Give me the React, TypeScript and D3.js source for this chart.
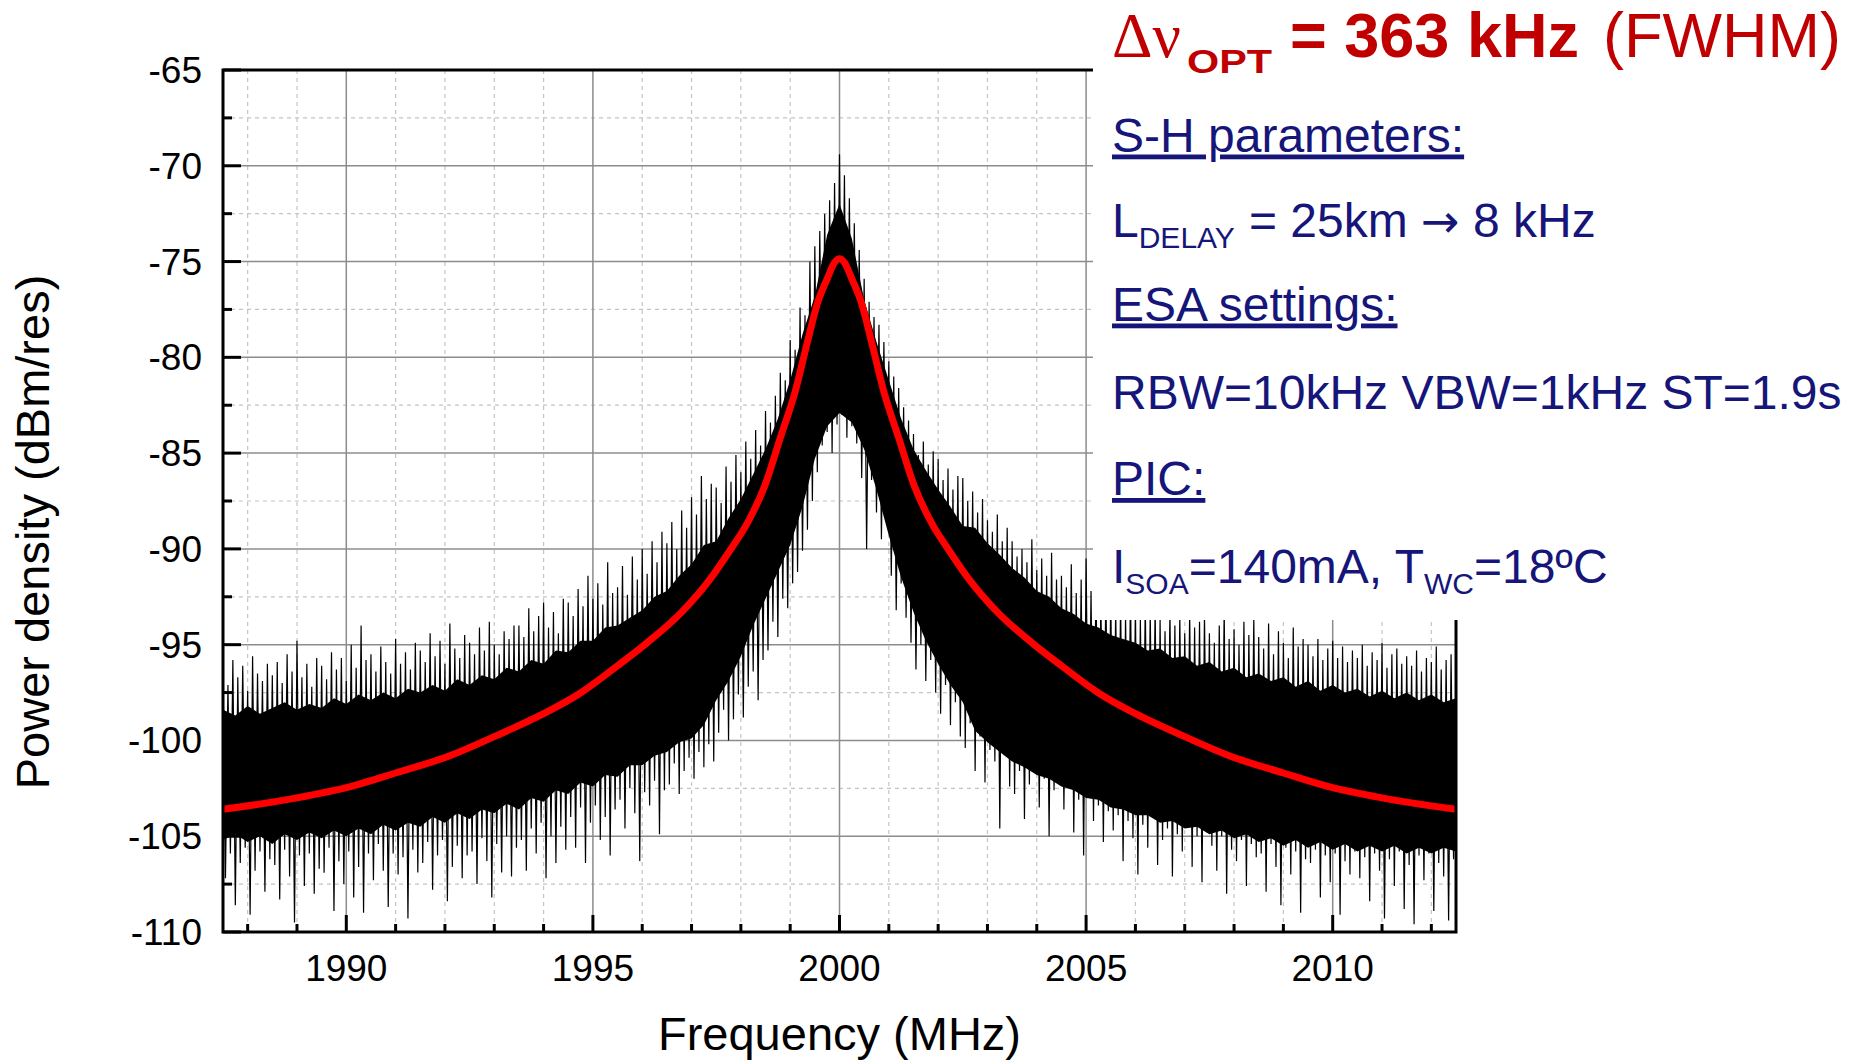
import React from 'react';
import * as d3 from 'd3';

// ---------- axes ----------
const xDomain = [1987.5, 2012.5];
const yDomain = [-110, -65];
const xTicks = [1990, 1995, 2000, 2005, 2010];
const yTicks = [-110, -105, -100, -95, -90, -85, -80, -75, -70, -65];

// ---------- measured trace (per 0.1 MHz bin: upper and lower excursion, dBm/res) ----------
const traceStart = 1987.5;
const traceStep = 0.1;
const traceHigh = [
  -96.3, -97.1, -95.8, -96.7, -96.1, -97.4, -95.6, -96.5, -96.9, -96.0,
  -96.6, -95.9, -97.0, -95.5, -96.4, -94.8, -96.7, -96.0, -97.2, -95.7,
  -96.1, -96.8, -95.4, -96.3, -95.7, -96.9, -95.0, -96.2, -94.0, -95.8,
  -95.5, -96.4, -95.1, -95.9, -96.5, -94.7, -96.0, -95.4, -96.3, -94.9,
  -95.3, -95.9, -94.4, -95.6, -94.8, -96.0, -93.9, -95.2, -95.7, -94.5,
  -94.9, -95.5, -94.1, -95.3, -93.8, -95.0, -95.5, -94.3, -94.7, -94.0,
  -94.0, -94.6, -93.1, -94.3, -93.5, -92.8, -94.1, -93.3, -94.4, -92.6,
  -92.8, -93.5, -92.1, -93.0, -91.4, -92.6, -91.8, -92.9, -90.7, -92.3,
  -92.0, -90.9, -92.4, -90.4, -91.6, -90.0, -91.3, -89.6, -90.7, -89.1,
  -89.7, -88.6, -90.0, -88.0, -88.9, -87.3, -88.2, -86.2, -87.4, -86.6,
  -86.8, -87.6, -85.7, -86.5, -85.1, -86.0, -84.4, -85.3, -83.8, -84.6,
  -82.8, -83.4, -82.0, -80.8, -81.2, -79.1, -79.6, -77.4, -77.8, -75.0,
  -74.2, -73.4, -72.5, -71.8, -70.9, -69.4, -70.5, -71.7, -73.0, -74.4,
  -75.9, -77.1, -77.9, -78.3, -79.2, -80.2, -81.0, -81.6, -82.6, -83.3,
  -84.0, -85.1, -84.4, -85.6, -84.9, -85.3, -86.4, -85.8, -86.9, -86.2,
  -86.3, -87.5, -87.0, -88.1, -87.4, -88.5, -89.1, -88.2, -89.6, -88.9,
  -89.6, -90.4, -90.0, -90.7, -89.5, -91.1, -90.5, -91.4, -90.2, -91.6,
  -91.4, -92.0, -90.8, -92.3, -91.6, -90.5, -92.2, -91.7, -92.6, -91.9,
  -92.4, -93.1, -92.6, -93.4, -92.1, -92.9, -93.6, -92.7, -93.3, -93.0,
  -93.7, -94.3, -93.2, -94.0, -93.5, -94.4, -93.3, -94.1, -93.8, -93.4,
  -94.4, -94.9, -94.0, -93.1, -94.7, -94.2, -95.0, -93.8, -94.5, -93.6,
  -94.6, -95.2, -93.9, -95.5, -94.3, -94.9, -95.7, -94.1, -95.1, -94.7,
  -95.0, -95.6, -94.7, -95.8, -95.2, -94.8, -95.7, -95.1, -95.9, -95.3,
  -95.7, -95.0, -96.1, -95.4, -95.8, -94.9, -96.2, -95.5, -95.2, -96.0,
  -95.6, -96.1, -95.3, -96.4, -95.7, -95.9, -95.1, -96.3, -95.8, -95.5, -96.2,
];
const traceLow = [
  -107.2, -105.9, -108.6, -106.4, -105.6, -109.1, -106.8, -105.8, -107.9, -106.2,
  -106.5, -108.3, -105.7, -107.1, -109.5, -106.0, -107.6, -105.9, -108.0, -106.7,
  -106.9, -105.6, -108.9, -106.3, -107.5, -105.8, -108.2, -106.6, -109.0, -105.9,
  -107.3, -105.4, -106.8, -108.7, -105.9, -107.0, -106.1, -109.3, -105.7, -106.9,
  -106.4, -105.3, -107.8, -106.0, -105.2, -108.4, -106.6, -105.5, -107.2, -106.0,
  -105.8, -107.5, -105.1, -106.3, -108.2, -105.4, -106.9, -105.0, -107.1, -105.6,
  -105.2, -106.8, -104.6, -105.9, -104.3, -107.2, -105.0, -106.4, -104.5, -105.7,
  -104.0, -105.6, -103.5, -106.4, -104.3, -103.4, -105.2, -104.0, -106.0, -103.6,
  -103.1, -104.6, -102.5, -103.8, -106.3, -102.7, -103.4, -102.1, -104.9, -102.6,
  -102.3, -101.2, -102.8, -101.6, -100.9, -102.0, -100.6, -101.4, -100.2, -101.1,
  -99.6, -98.4, -100.0, -98.9, -97.6, -98.8, -97.2, -96.4, -97.9, -95.8,
  -95.3, -93.8, -94.6, -92.6, -93.1, -91.8, -91.2, -90.1, -89.0, -87.5,
  -86.0, -84.6, -83.9, -85.0, -83.5, -83.0, -84.2, -83.6, -84.5, -86.3,
  -90.0, -86.4, -88.1, -89.5, -88.6, -91.4, -93.2, -91.8, -93.6, -94.9,
  -96.3, -95.0, -96.9, -95.8, -97.5, -98.6, -97.1, -99.2, -98.0, -99.8,
  -100.4, -99.1, -101.6, -99.8, -102.2, -100.5, -101.1, -104.6, -100.7, -102.4,
  -102.8, -101.6, -104.1, -102.3, -101.4, -103.5, -102.0, -105.0, -102.6, -101.9,
  -103.6, -102.5, -104.8, -103.1, -106.0, -102.9, -104.2, -103.4, -105.3, -103.7,
  -104.7, -103.9, -106.3, -104.2, -105.1, -107.0, -104.4, -105.6, -104.0, -106.5,
  -105.2, -104.6, -107.1, -104.9, -105.8, -104.5, -106.6, -105.0, -107.4, -104.8,
  -105.5, -106.8, -105.0, -108.0, -105.7, -106.3, -105.2, -107.6, -105.4, -106.1,
  -105.9, -107.9, -105.4, -106.6, -108.6, -105.6, -107.0, -105.8, -109.0, -106.2,
  -106.4, -105.7, -108.2, -106.0, -107.4, -105.9, -109.1, -106.3, -107.0, -105.8,
  -107.2, -106.1, -108.4, -105.9, -106.8, -109.3, -106.2, -107.6, -105.8, -108.8,
  -106.5, -109.6, -106.0, -107.3, -105.9, -108.9, -106.4, -107.1, -109.4, -106.2, -107.5,
];

// dense core of the trace (solid black part of the sweep), every 0.25 MHz
const coreStart = 1987.5;
const coreStep = 0.25;
const coreTop = [
  -98.4, -98.7, -98.2, -98.6, -98.3, -98.0, -98.4, -98.1, -98.3, -97.8,
  -98.1, -97.6, -97.9, -97.5, -97.8, -97.3, -97.5, -97.1, -97.4, -96.8,
  -97.1, -96.6, -96.8, -96.2, -96.4, -95.8, -96.0, -95.3, -95.4, -94.8,
  -94.8, -94.1, -94.0, -93.6, -93.2, -92.5, -92.2, -91.4, -90.8, -89.8,
  -89.6, -88.4, -87.4, -86.1, -84.8, -83.2, -81.2, -78.8, -76.8, -73.6,
  -72.0, -73.8, -77.0, -79.2, -81.2, -83.2, -84.8, -85.9, -86.9, -87.8,
  -88.8, -88.9, -89.7, -90.3, -91.0, -91.5, -92.2, -92.5, -93.1, -93.4,
  -93.9, -94.1, -94.5, -94.7, -94.9, -95.3, -95.2, -95.7, -95.6, -96.1,
  -95.9, -96.4, -96.2, -96.7, -96.5, -96.9, -96.7, -97.2, -96.9, -97.4,
  -97.1, -97.5, -97.3, -97.7, -97.4, -97.8, -97.5, -97.9, -97.6, -98.0,
  -97.8,
];
const coreBottom = [
  -105.2, -104.9, -105.3, -105.0, -105.4, -104.9, -105.2, -104.8, -105.1, -104.7,
  -105.0, -104.6, -104.9, -104.4, -104.7, -104.3, -104.5, -104.0, -104.3, -103.8,
  -104.1, -103.6, -103.8, -103.3, -103.6, -103.0, -103.2, -102.6, -102.8, -102.2,
  -102.4, -101.8, -101.9, -101.3, -101.3, -100.8, -100.6, -100.1, -99.9, -99.2,
  -97.9, -96.9, -95.6, -94.0, -92.6, -91.2, -89.8, -87.8, -85.3, -83.6,
  -82.9, -83.4, -84.8, -86.9, -89.3, -91.5, -93.3, -94.8, -96.0, -97.1,
  -98.0, -99.5, -100.1, -100.6, -101.1, -101.4, -101.8, -102.0, -102.4, -102.6,
  -103.0, -103.1, -103.5, -103.6, -103.9, -103.9, -104.3, -104.2, -104.6, -104.5,
  -104.9, -104.7, -105.1, -104.9, -105.3, -105.1, -105.5, -105.2, -105.6, -105.3,
  -105.7, -105.4, -105.8, -105.5, -105.8, -105.5, -105.9, -105.6, -105.9, -105.6,
  -105.8,
];

// ---------- Lorentzian fit (red) ----------
const fitFreq = [1987.5, 1989.0, 1990.1, 1991.0, 1992.1, 1993.0, 1994.0, 1994.7, 1995.5, 1996.1, 1996.8, 1997.4, 1997.8, 1998.1, 1998.5, 1998.8, 1999.1, 1999.35, 1999.55, 1999.75, 1999.9, 2000.0, 2000.1, 2000.25, 2000.45, 2000.65, 2000.9, 2001.2, 2001.5, 2001.9, 2002.2, 2002.6, 2003.2, 2003.9, 2004.5, 2005.3, 2006.0, 2007.0, 2007.9, 2009.0, 2009.9, 2011.0, 2012.5];
const fitLevel = [-103.6, -103.0, -102.4, -101.7, -100.8, -99.8, -98.6, -97.6, -96.1, -94.9, -93.3, -91.5, -90.0, -88.8, -86.6, -84.2, -81.8, -79.2, -77.2, -75.9, -75.05, -74.85, -75.05, -75.9, -77.2, -79.2, -81.8, -84.2, -86.6, -88.8, -90.0, -91.5, -93.3, -94.9, -96.1, -97.6, -98.6, -99.8, -100.8, -101.7, -102.4, -103.0, -103.6];

const W = 1852;
const H = 1063;
const P = { left: 223, right: 1456, top: 70, bottom: 932 };
const BLUE = '#15157a';
const RED_TXT = '#c00000';

export default function App() {
  const x = d3.scaleLinear().domain(xDomain).range([P.left, P.right]);
  const y = d3.scaleLinear().domain(yDomain).range([P.bottom, P.top]);

  const xMinor = d3.range(1988, 2013, 1).filter((v) => v % 5 !== 0);
  const yMinor = d3.range(-107.5, -65, 5);
  const yMajorGrid = yTicks.filter((v) => v > -110 && v < -65);

  // zigzag through high/low excursions of each bin
  const zig: [number, number][] = [];
  traceHigh.forEach((h, i) => {
    const f = traceStart + i * traceStep;
    zig.push([f, h]);
    zig.push([f + traceStep / 2, traceLow[i]]);
  });
  const zigPath = d3
    .line<[number, number]>()
    .x((d) => x(d[0]))
    .y((d) => y(d[1]))(zig) as string;

  const coreData = coreTop.map((t, i) => ({ f: coreStart + i * coreStep, t, b: coreBottom[i] }));
  const corePath = d3
    .area<{ f: number; t: number; b: number }>()
    .x((d) => x(d.f))
    .y0((d) => y(d.b))
    .y1((d) => y(d.t))(coreData) as string;

  const fitPath = d3
    .line<number>()
    .x((_, i) => x(fitFreq[i]))
    .y((d) => y(d))
    .curve(d3.curveMonotoneX)(fitLevel) as string;

  const font = "'Liberation Sans', Arial, Helvetica, sans-serif";

  return (
    <div style={{ position: 'absolute', left: 0, top: 0 }}>
      <svg width={W} height={H} style={{ display: 'block', background: '#fff' }} fontFamily={font}>
        <defs>
          <clipPath id="plotClip">
            <rect x={P.left} y={P.top} width={P.right - P.left} height={P.bottom - P.top} />
          </clipPath>
        </defs>

        {/* minor grid */}
        <g stroke="#c4c4c4" strokeWidth={1.2} strokeDasharray="4,4">
          {xMinor.map((v) => (
            <line key={'xm' + v} x1={x(v)} x2={x(v)} y1={P.top} y2={P.bottom} />
          ))}
          {yMinor.map((v) => (
            <line key={'ym' + v} x1={P.left} x2={P.right} y1={y(v)} y2={y(v)} />
          ))}
        </g>
        {/* major grid */}
        <g stroke="#8c8c8c" strokeWidth={1.5}>
          {xTicks.map((v) => (
            <line key={'xM' + v} x1={x(v)} x2={x(v)} y1={P.top} y2={P.bottom} />
          ))}
          {yMajorGrid.map((v) => (
            <line key={'yM' + v} x1={P.left} x2={P.right} y1={y(v)} y2={y(v)} />
          ))}
        </g>

        {/* trace + fit */}
        <g clipPath="url(#plotClip)">
          <path d={corePath} fill="#000" stroke="none" />
          <path d={zigPath} fill="none" stroke="#000" strokeWidth={1.2} />
          <path d={fitPath} fill="none" stroke="#ff0000" strokeWidth={7} strokeLinecap="round" />
        </g>

        {/* ticks (inside) */}
        <g stroke="#000" strokeWidth={3}>
          {yTicks.map((v) => (
            <line key={'yt' + v} x1={P.left} x2={P.left + 18} y1={y(v)} y2={y(v)} />
          ))}
          {yMinor.map((v) => (
            <line key={'ytm' + v} x1={P.left} x2={P.left + 9} y1={y(v)} y2={y(v)} />
          ))}
          {xTicks.map((v) => (
            <line key={'xt' + v} x1={x(v)} x2={x(v)} y1={P.bottom} y2={P.bottom - 17} />
          ))}
          {xMinor.map((v) => (
            <line key={'xtm' + v} x1={x(v)} x2={x(v)} y1={P.bottom} y2={P.bottom - 8} />
          ))}
        </g>

        {/* frame */}
        <rect
          x={P.left}
          y={P.top}
          width={P.right - P.left}
          height={P.bottom - P.top}
          fill="none"
          stroke="#000"
          strokeWidth={3}
        />

        {/* tick labels */}
        <g fontSize={37} fill="#000">
          {yTicks.map((v) => (
            <text key={'yl' + v} x={202} y={y(v) + 13} textAnchor="end">
              {String(v)}
            </text>
          ))}
          {xTicks.map((v) => (
            <text key={'xl' + v} x={x(v)} y={981} textAnchor="middle">
              {String(v)}
            </text>
          ))}
        </g>

        {/* axis titles */}
        <text x={x(2000)} y={1050} textAnchor="middle" fontSize={47} fill="#000">
          Frequency (MHz)
        </text>
        <text transform="translate(49,532) rotate(-90)" textAnchor="middle" fontSize={47} fill="#000">
          Power density (dBm/res)
        </text>

        {/* annotation panel */}
        <rect x={1093} y={0} width={W - 1093} height={620} fill="#fff" />

        <text y={57} fill={RED_TXT} fontSize={63}>
          <tspan x={1112} fontFamily="'Liberation Serif', 'DejaVu Serif', serif">Δν</tspan>
          <tspan x={1187} dy={15.5} fontWeight="bold" fontSize={34} textLength={85} lengthAdjust="spacingAndGlyphs">
            OPT
          </tspan>
          <tspan x={1290} y={57} fontWeight="bold">= 363 kHz</tspan>
          <tspan x={1603} y={57}>(FWHM)</tspan>
        </text>

        <g fill={BLUE} fontSize={48}>
          <text x={1112} y={151.5} textDecoration="underline">S-H parameters:</text>
          <text y={236.7}>
            <tspan x={1112}>L</tspan>
            <tspan fontSize={30} dy={11}>DELAY</tspan>
            <tspan x={1249} y={236.7}>= 25km </tspan>
            <tspan fontFamily="'DejaVu Sans', sans-serif" fontSize={46}>→</tspan>
            <tspan> 8 kHz</tspan>
          </text>
          <text x={1112} y={320.5} textDecoration="underline">ESA settings:</text>
          <text x={1112} y={409}>RBW=10kHz VBW=1kHz ST=1.9s</text>
          <text x={1112} y={495} textDecoration="underline">PIC:</text>
          <text y={583}>
            <tspan x={1112}>I</tspan>
            <tspan fontSize={30} dy={11}>SOA</tspan>
            <tspan dy={-11}>=140mA, T</tspan>
            <tspan fontSize={30} dy={11}>WC</tspan>
            <tspan dy={-11}>=18ºC</tspan>
          </text>
        </g>
      </svg>
    </div>
  );
}
